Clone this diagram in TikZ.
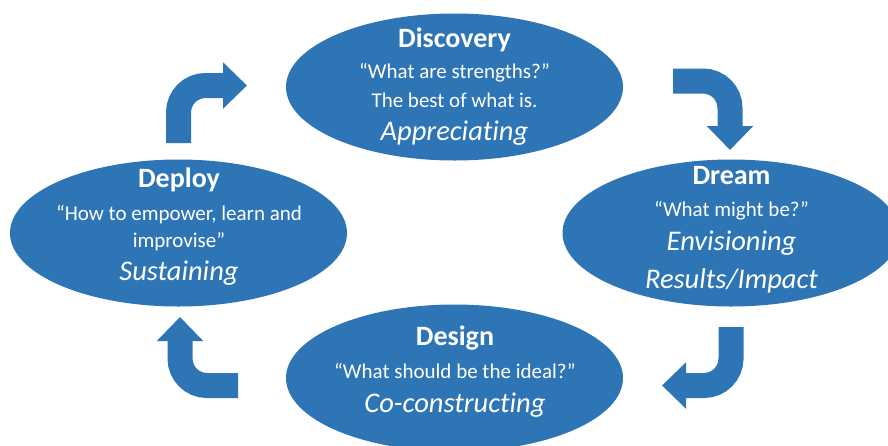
\documentclass[tikz,border=0pt]{standalone}
\usepackage{fontspec}
\setmainfont[Ligatures=NoCommon]{Carlito}
\usetikzlibrary{shapes.geometric,arrows.meta}
\definecolor{phaseblue}{RGB}{46,117,182}
\tikzset{
  phase/.style={ellipse, fill=phaseblue, draw=none, inner sep=0pt,
                minimum width=337pt, minimum height=147pt},
  ttl/.style={anchor=base, text=white, inner sep=0pt, font=\fontsize{28}{30}\selectfont\bfseries},
  qst/.style={anchor=base, text=white, inner sep=0pt, font=\fontsize{21}{24}\selectfont},
  verb/.style={anchor=base, text=white, inner sep=0pt, font=\fontsize{28.5}{30}\selectfont\itshape},
  bent/.style={draw=phaseblue, line width=25pt, rounded corners=27pt,
               -{Triangle[length=24pt, width=45pt]}}
}
\begin{document}
\begin{tikzpicture}[x=1pt, y=-1pt]
  \useasboundingbox (0,0) rectangle (888,445);
  \clip (0,0) rectangle (888,445);

  % the four phases
  \node[phase] (disc)   at (454.5,87)  {};
  \node[phase] (dream)  at (731,233)   {};
  \node[phase] (design) at (454.5,378) {};
  \node[phase] (deploy) at (178.5,233) {};

  % Discovery
  \node[ttl]  (disc-t)  at (454.5,47)  {Discovery};
  \node[qst]  (disc-q)  at (454.5,78)  {“What are strengths?”};
  \node[qst]  (disc-b)  at (454.5,107) {The best of what is.};
  \node[verb] (disc-v)  at (454.5,140) {Appreciating};

  % Dream
  \node[ttl]  (dream-t)  at (731.5,184) {Dream};
  \node[qst]  (dream-q)  at (731.5,216) {“What might be?”};
  \node[verb] (dream-v)  at (731.5,250) {Envisioning};
  \node[verb] (dream-r)  at (731.5,288) {Results/Impact};

  % Design
  \node[ttl]  (design-t) at (455,345) {Design};
  \node[qst]  (design-q) at (455,378) {“What should be the ideal?”};
  \node[verb] (design-v) at (455,412) {Co-constructing};

  % Deploy
  \node[ttl]  (deploy-t) at (179,187) {Deploy};
  \node[qst]  (deploy-q) at (179,220) {“How to empower, learn and};
  \node[qst]  (deploy-i) at (179,247) {improvise”};
  \node[verb] (deploy-v) at (179,280) {Sustaining};

  % ends of the bent arrows
  \coordinate (a1s) at (178.5,143);
  \coordinate (a1e) at (247,85.5);
  \coordinate (a2s) at (673,81);
  \coordinate (a2e) at (730,150);
  \coordinate (a3s) at (731,327);
  \coordinate (a3e) at (662,385.5);
  \coordinate (a4s) at (238,385.5);
  \coordinate (a4e) at (180,317);

  % bent arrows running clockwise round the cycle
  \draw[bent] (a1s) |- (a1e);
  \draw[bent] (a2s) -| (a2e);
  \draw[bent] (a3s) |- (a3e);
  \draw[bent] (a4s) -| (a4e);
\end{tikzpicture}
\end{document}
